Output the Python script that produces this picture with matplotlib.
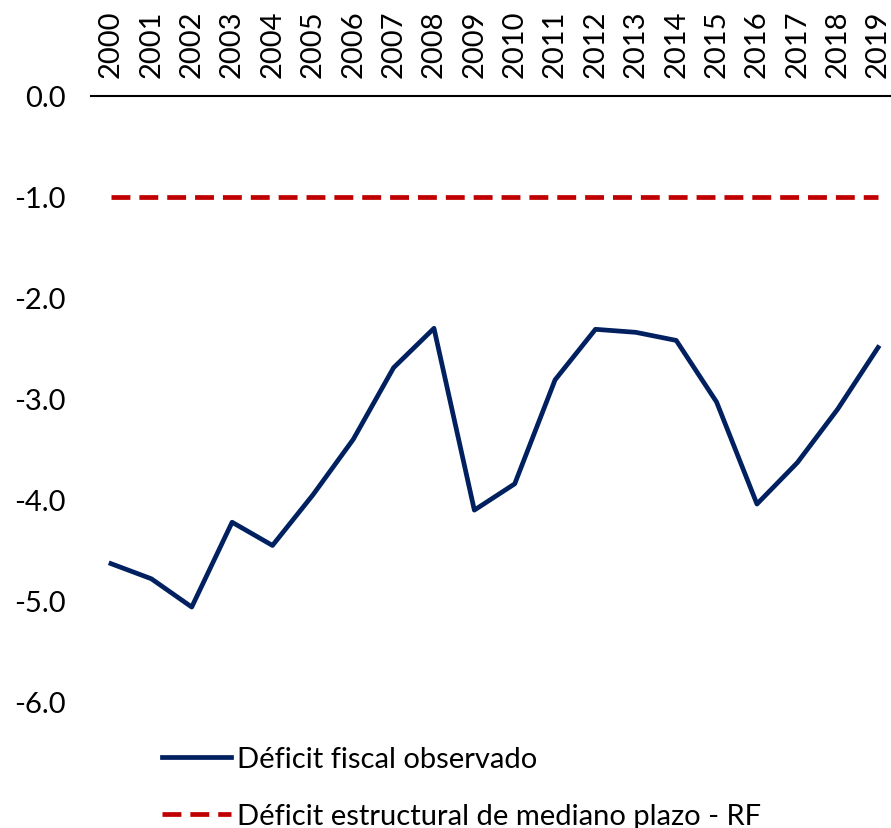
import matplotlib.pyplot as plt

plt.rcParams['font.family'] = ['Lato', 'DejaVu Sans']

years = list(range(2000, 2020))
deficit_observado = [-4.63, -4.78, -5.06, -4.22, -4.45, -3.95, -3.40, -2.69, -2.30, -4.10,
                     -3.84, -2.81, -2.31, -2.34, -2.42, -3.03, -4.04, -3.63, -3.10, -2.49]
deficit_estructural = [-1.0] * len(years)
yticks = [0, -1, -2, -3, -4, -5, -6]

navy = '#002060'
red = '#C00000'

fig = plt.figure(figsize=(8.91, 8.29), dpi=100)
ax = fig.add_axes([91 / 891, 1 - 703 / 829, 800 / 891, 606 / 829])

ax.plot(years, deficit_observado, color=navy, lw=3.4, label='Déficit fiscal observado')
ax.plot(years, deficit_estructural, color=red, lw=3.4, dashes=(4.0, 1.9),
        label='Déficit estructural de mediano plazo - RF')

ax.set_xlim(1999.505, 2019.32)
ax.set_ylim(-6, 0)
ax.xaxis.tick_top()
ax.set_xticks(years)
ax.set_xticklabels([str(y) for y in years], rotation=90, fontsize=21)
ax.set_yticks(yticks)
ax.set_yticklabels(['%.1f' % v for v in yticks], fontsize=21)
ax.tick_params(axis='both', length=0)
ax.tick_params(axis='y', pad=18)
ax.tick_params(axis='x', pad=14)

for s in ['left', 'right', 'bottom']:
    ax.spines[s].set_visible(False)
ax.spines['top'].set_linewidth(1.5)
ax.spines['top'].set_color('black')

fig.legend(loc='upper left', bbox_to_anchor=(136 / 891, 1 - 721 / 829),
           frameon=False, fontsize=21, handlelength=2.35, handletextpad=0.2,
           labelspacing=1.05)

fig.savefig('out.png', dpi=100)
